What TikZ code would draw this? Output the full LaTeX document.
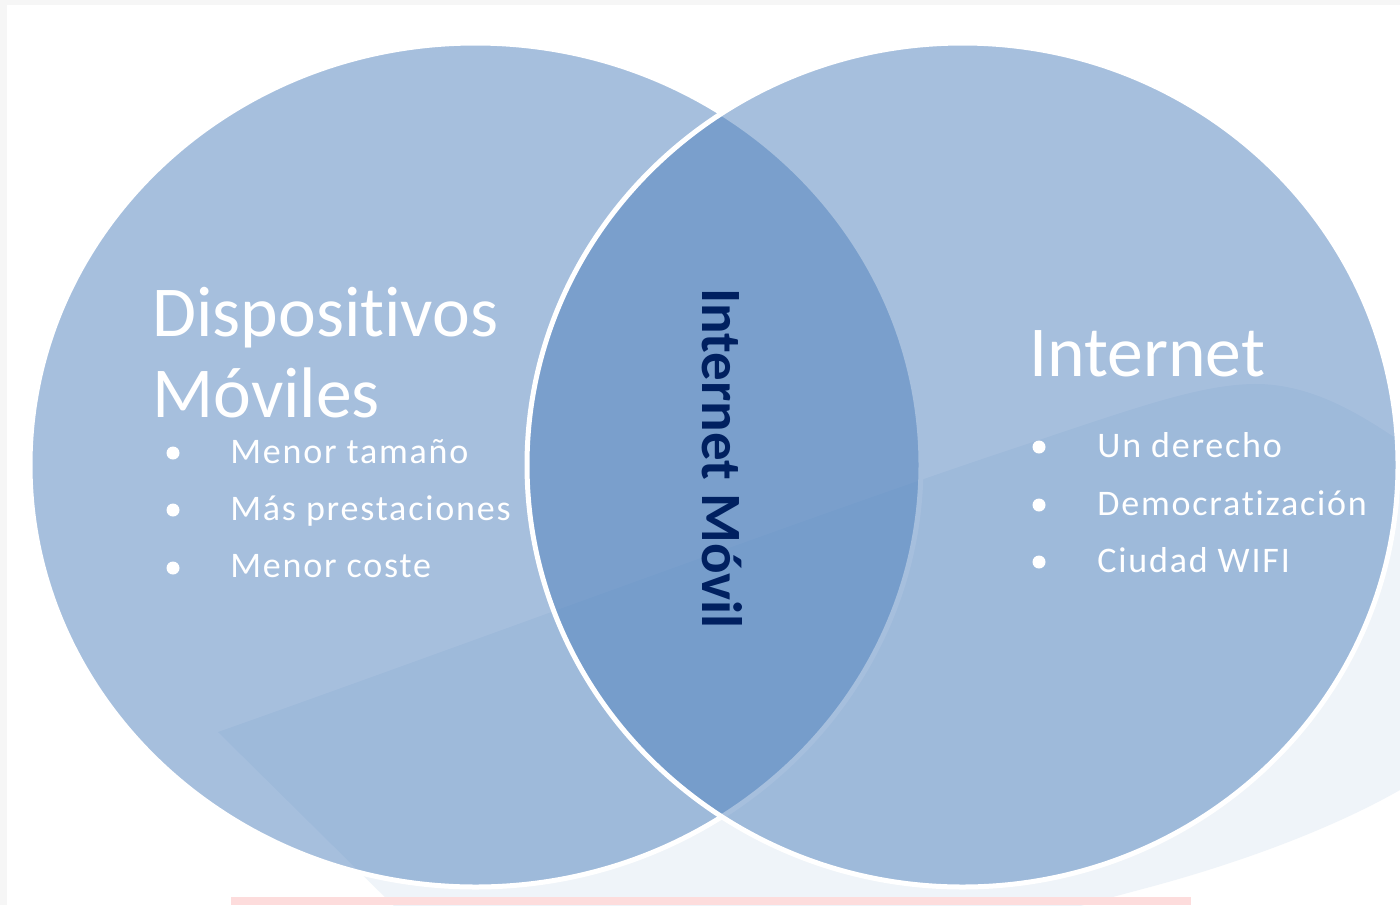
\documentclass[tikz,border=0pt]{standalone}
\usepackage{fontspec}
\setmainfont[Ligatures=NoCommon]{Carlito}
\newfontfamily\itemfont[LetterSpace=5,Ligatures=NoCommon]{Carlito}
\definecolor{accent}{HTML}{4F81BD}
\definecolor{swoosh}{HTML}{EFF4F9}
\definecolor{navy}{HTML}{002060}
\definecolor{pinkbar}{HTML}{FDDCDC}
\definecolor{framegray}{HTML}{F6F6F6}
\tikzset{
  venn/.style={fill=accent, fill opacity=0.5, draw=white, line width=2.5pt},
  title/.style={anchor=base west, inner sep=0pt, text=white, font=\fontsize{35.8}{40}\selectfont},
  itemtext/.style={anchor=base west, inner sep=0pt, text=white, font=\itemfont\fontsize{18}{20}\selectfont},
  bulletdot/.style={fill=white},
  centerlabel/.style={anchor=base west, inner sep=0pt, rotate=-90, text=navy, font=\bfseries\fontsize{28.5}{30}\selectfont}
}
\begin{document}
\begin{tikzpicture}[x=0.5pt,y=-0.5pt]
\useasboundingbox (0,0) rectangle (1400,905);
\fill[white] (0,0) rectangle (1400,905);
\begin{scope}
\clip (0,0) rectangle (1400,905);
% background swoosh
\fill[swoosh] (218,732) .. controls (450,650) and (800,520) .. (1000,453)
  .. controls (1130,410) and (1200,383) .. (1260,384)
  .. controls (1320,386) and (1370,420) .. (1420,455)
  -- (1420,778) .. controls (1350,822) and (1250,860) .. (1150,887)
  .. controls (1120,895) and (1090,903) .. (1060,912)
  -- (400,912) -- cycle;
% frame
\fill[framegray] (0,0) rectangle (1400,5);
\fill[framegray] (0,0) rectangle (7,905);
\fill[pinkbar] (231,897) rectangle (1191,905);
% circles
\path[venn] (475.5,465) ellipse [x radius=222.75pt, y radius=211pt];
\path[venn] (962.5,465) ellipse [x radius=217.75pt, y radius=211pt];
\end{scope}
% texts
\node[title] (t1) at (152,336) {Dispositivos};
\node[title] (t2) at (152,417) {Móviles};
\node[title] (t3) at (1029,376) {Internet};
\fill[bulletdot] (173,453) circle[radius=3.25pt];
\fill[bulletdot] (173,510) circle[radius=3.25pt];
\fill[bulletdot] (173,568) circle[radius=3.25pt];
\node[itemtext] (l1) at (230,463) {Menor tamaño};
\node[itemtext] (l2) at (230,520) {Más prestaciones};
\node[itemtext] (l3) at (230,577) {Menor coste};
\fill[bulletdot] (1039,447) circle[radius=3.25pt];
\fill[bulletdot] (1039,505) circle[radius=3.25pt];
\fill[bulletdot] (1039,562) circle[radius=3.25pt];
\node[itemtext] (r1) at (1097,457) {Un derecho};
\node[itemtext] (r2) at (1097,515) {Democratización};
\node[itemtext] (r3) at (1097,572) {Ciudad WIFI};
\node[centerlabel] (c) at (702,288) {Internet Móvil};
\end{tikzpicture}
\end{document}
